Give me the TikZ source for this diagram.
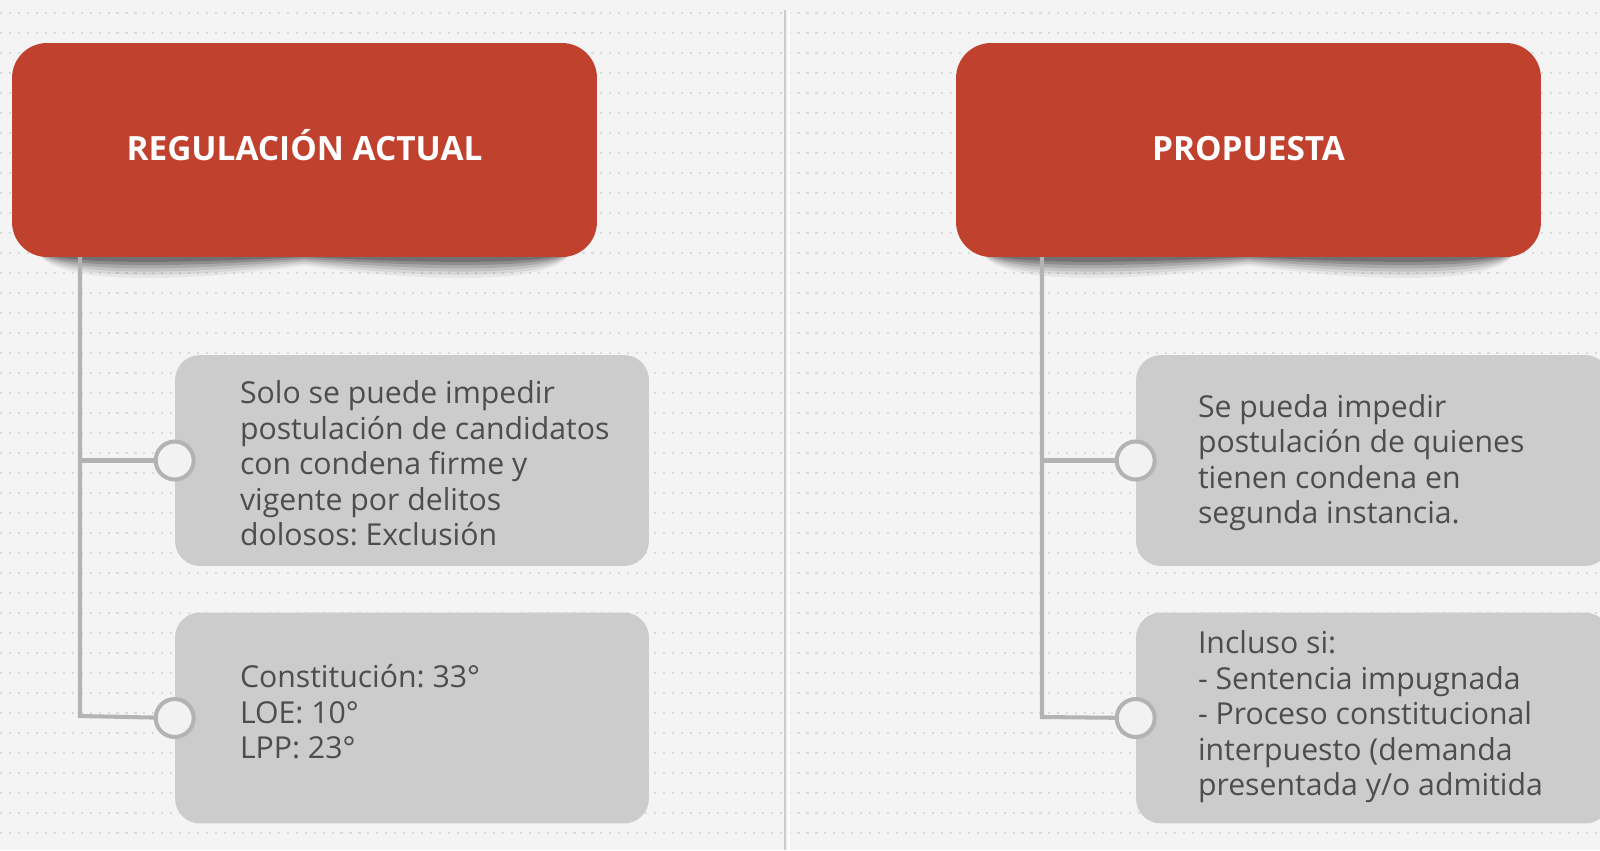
\documentclass[tikz,border=0pt]{standalone}
\usepackage{fontspec}
\setmainfont{Open Sans}
\frenchspacing
\definecolor{pagebg}{HTML}{F4F4F4}
\definecolor{dotgray}{HTML}{DADADA}
\definecolor{hdrred}{HTML}{C0412E}
\definecolor{cardgray}{HTML}{CCCCCC}
\definecolor{linegray}{HTML}{B3B3B3}
\definecolor{knobfill}{HTML}{F2F2F2}
\definecolor{textgray}{HTML}{4D4D4D}

\begin{document}
\begin{tikzpicture}[x=0.02cm, y=-0.02cm,
    header/.style={rectangle, rounded corners=0.7cm, fill=hdrred, minimum width=11.7cm, minimum height=4.28cm, text=white, text height=15.4pt, text depth=4pt, font=\bfseries\fontsize{19}{22}\selectfont},
    card/.style={rectangle, rounded corners=0.5cm, fill=cardgray, minimum width=9.48cm, minimum height=4.22cm},
    cardtext/.style={anchor=west, align=left, inner sep=0pt, text=textgray, font=\fontsize{17.2}{20.2}\selectfont},
    knob/.style={circle, draw=linegray, line width=2.3pt, fill=knobfill, minimum size=0.76cm, inner sep=0pt},
    branch/.style={draw=linegray, line width=2.3pt}
]
\useasboundingbox (0,0) rectangle (1600,850);
\clip (0,0) rectangle (1600,850);

% Background
\fill[pagebg] (0,0) rectangle (1600,850);
\foreach \y in {13,33,...,853}
  \draw[dotgray, line width=0.6pt, dash pattern=on 1.2pt off 3.9pt] (0,\y) -- (1600,\y);
\draw[black!20, line width=1.6pt] (785,10) -- (785,850);
\draw[white, line width=1.6pt] (789,10) -- (789,850);

% Curled shadows under the headers
\foreach \cx in {304.5,1248.5}
  \foreach \f/\o in {1.3/0.05, 1.15/0.07, 1.0/0.09, 0.85/0.12, 0.7/0.16, 0.55/0.2}
    \fill[black, opacity=\o] (\cx-268,250) .. controls (\cx-255,250+28*\f) and (\cx-120,250+25*\f) .. (\cx,250+12*\f)
      .. controls (\cx+120,250+25*\f) and (\cx+255,250+28*\f) .. (\cx+268,250) -- cycle;

% Spines
\coordinate (topL) at (80,257);
\coordinate (endL) at (80,716);
\coordinate (topR) at (1042,257);
\coordinate (endR) at (1042,717);

% Cards
\node[card] (c1) at (412,460.5) {};
\node[card] (c2) at (412,718) {};
\node[card] (c3) at (1373,460.5) {};
\node[card] (c4) at (1373,718) {};

% Connections
\draw[branch] (topL) -- (endL) -- (c2.west);
\draw[branch] (c1.west -| endL) -- (c1.west);
\draw[branch] (topR) -- (endR) -- (c4.west);
\draw[branch] (c3.west -| endR) -- (c3.west);

% Headers
\node[header] (hdrL) at (304.5,150) {REGULACIÓN ACTUAL};
\node[header] (hdrR) at (1248.5,150) {PROPUESTA};

\node[cardtext] (t1) at ([xshift=1.3cm,yshift=-0.06cm]c1.west) {Solo se puede impedir\\postulación de candidatos\\con condena firme y\\vigente por delitos\\dolosos: Exclusión};
\node[cardtext] (t2) at ([xshift=1.3cm,yshift=0.12cm]c2.west) {Constitución: 33°\\LOE: 10°\\LPP: 23°};
\node[cardtext] (t3) at ([xshift=1.24cm,yshift=-0.04cm]c3.west) {Se pueda impedir\\postulación de quienes\\tienen condena en\\segunda instancia.};
\node[cardtext] (t4) at ([xshift=1.24cm,yshift=0.02cm]c4.west) {Incluso si:\\- Sentencia impugnada\\- Proceso constitucional\\interpuesto (demanda\\presentada y/o admitida};

% Knobs
\node[knob] (k1) at (c1.west) {};
\node[knob] (k2) at (c2.west) {};
\node[knob] (k3) at (c3.west) {};
\node[knob] (k4) at (c4.west) {};

\end{tikzpicture}
\end{document}
